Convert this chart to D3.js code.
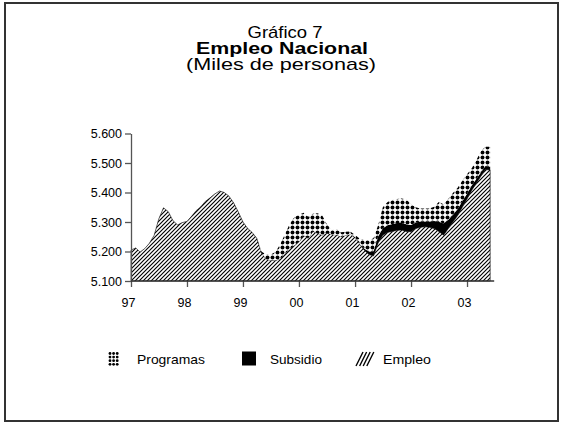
<!DOCTYPE html>
<html><head><meta charset="utf-8">
<script src="https://cdn.jsdelivr.net/npm/d3@7"></script>
<style>body{margin:0;background:#fff}svg{display:block;font-family:"Liberation Sans",Arial,sans-serif}</style>
</head><body><svg id="c" width="564" height="424"></svg>
<script>
// ---- data (miles de personas), monthly Jan 1997 – Jun 2003 ----
const firstMonth = new Date(1997, 0, 1);
const lastMonthExclusive = new Date(2003, 6, 1);
const empleo = [5205,5212,5198,5210,5228,5255,5310,5348,5335,5305,5290,5298,
  5302,5320,5338,5352,5370,5382,5395,5405,5400,5388,5365,5335,
  5300,5278,5265,5245,5195,5175,5170,5170,5175,5192,5208,5220,
  5233,5255,5245,5268,5262,5256,5262,5258,5256,5250,5255,5258,
  5248,5225,5205,5190,5185,5230,5255,5265,5268,5272,5273,5268,
  5267,5278,5282,5284,5282,5278,5268,5255,5278,5300,5322,5350,
  5378,5408,5430,5455,5478,5476];
const subsidio = [0,0,0,0,0,0,0,0,0,0,0,0,
  0,0,0,0,0,0,0,0,0,0,0,0,
  0,0,0,0,0,0,0,0,0,0,0,0,
  0,0,0,0,0,0,0,0,0,0,0,0,
  0,0,5,10,15,22,24,24,25,25,24,24,
  23,20,20,18,20,25,33,40,30,25,22,20,
  18,16,15,13,12,11];
const programas = [0,0,0,0,0,0,0,0,0,0,0,0,
  0,0,0,0,0,0,0,0,0,0,0,0,
  0,0,0,0,5,15,20,28,50,66,84,95,
  92,76,73,60,68,66,30,14,20,15,12,10,
  8,18,30,38,45,38,71,79,82,81,83,84,
  70,52,44,44,44,49,67,65,70,73,72,70,
  66,58,63,72,65,68];
const yTicks = [5100,5200,5300,5400,5500,5600];
const yTickLabels = ["5.100","5.200","5.300","5.400","5.500","5.600"];
const xTickYears = [1997,1998,1999,2000,2001,2002,2003];
const xTickLabels = ["97","98","99","00","01","02","03"];
const seriesKeys = ["empleo","subsidio","programas"];
const legendLabels = ["Programas","Subsidio","Empleo"];
const titleLines = ["Gráfico 7","Empleo Nacional","(Miles de personas)"];

const months = d3.timeMonth.range(firstMonth, lastMonthExclusive);
const rows = months.map((d,i)=>({date:d, empleo:empleo[i], subsidio:subsidio[i], programas:programas[i]}));

const svg = d3.select("#c");
const defs = svg.append("defs");
const hatch = defs.append("pattern").attr("id","hatch").attr("patternUnits","userSpaceOnUse").attr("width",4).attr("height",4);
hatch.append("rect").attr("width",4).attr("height",4).attr("fill","#fff");
hatch.append("path").attr("d","M-1,1 l2,-2 M0,4 l4,-4 M3,5 l2,-2").attr("stroke","#000").attr("stroke-width",1.15);
const dots = defs.append("pattern").attr("id","dots").attr("patternUnits","userSpaceOnUse").attr("width",5).attr("height",5);
dots.append("rect").attr("width",5).attr("height",5).attr("fill","#fff");
dots.append("circle").attr("cx",2.5).attr("cy",2.5).attr("r",1.95).attr("fill","#000");

// frame
svg.append("rect").attr("x",5).attr("y",3).attr("width",553).attr("height",418)
  .attr("fill","none").attr("stroke","#333").attr("stroke-width",2);

// helper: horizontally stretched text to a target width
function stretched(parent, txt, cx, yy, w, size, weight, anchor){
  const t = parent.append("text").attr("font-size",size).attr("font-weight",weight||"normal")
    .attr("text-anchor",anchor||"middle").text(txt);
  const len = t.node().getComputedTextLength();
  const sx = w/len;
  t.attr("transform",`translate(${cx},${yy}) scale(${sx},1)`);
  return t;
}

// title
const titleSpec = [{y:37.5,cx:285,w:75,bold:"normal"},{y:54,cx:282,w:172,bold:"bold"},{y:70,cx:281,w:190,bold:"normal"}];
titleSpec.forEach((s,i)=> stretched(svg, titleLines[i], s.cx, s.y, s.w, 16, s.bold, "middle"));

const x = d3.scaleTime().domain([new Date(1997,0,1), new Date(2004,0,1)]).range([131, 523]);
const y = d3.scaleLinear().domain([5100,5600]).range([281,133.5]).clamp(true);

const stack = d3.stack().keys(seriesKeys);
const layers = stack(rows);
const area = d3.area().x(d=>x(d.data.date)).y0(d=>y(d[0])).y1(d=>y(d[1]));
const fills = {empleo:"url(#hatch)", subsidio:"#000", programas:"url(#dots)"};

svg.append("g").selectAll("path").data(layers).join("path")
  .attr("d",area).attr("fill",d=>fills[d.key])
  .attr("stroke",d=>d.key==="empleo"?"#000":"none").attr("stroke-width",0.6);

// axes
const yAxis = d3.axisLeft(y).tickValues(yTicks).tickFormat((d,i)=>yTickLabels[i]).tickSize(6).tickSizeOuter(0).tickPadding(3);
const gy = svg.append("g").attr("transform","translate(131,0)").call(yAxis);
gy.selectAll("text").attr("font-size",12.5).attr("fill","#000").attr("font-family","Liberation Sans, Arial, sans-serif");
gy.selectAll("line,path").attr("stroke","#555").attr("stroke-width",1.3);

const xAxis = d3.axisBottom(x).tickValues(xTickYears.map(yr=>new Date(yr,0,1))).tickFormat((d,i)=>xTickLabels[i]).tickSize(6).tickSizeOuter(0).tickPadding(11);
const gx = svg.append("g").attr("transform","translate(0,281)").call(xAxis);
gx.select(".domain").remove();
gx.append("line").attr("x1",131).attr("x2",x(months[months.length-1])+4).attr("y1",0).attr("y2",0).attr("stroke","#333").attr("stroke-width",1.3);
gx.selectAll("text").attr("font-size",12.5).attr("fill","#000").attr("dx",-3).attr("font-family","Liberation Sans, Arial, sans-serif");
gx.selectAll(".tick line").attr("stroke","#555").attr("stroke-width",1.3);

// legend
const lg = svg.append("g");
for (let c=0;c<3;c++) for (let r=0;r<4;r++)
  lg.append("circle").attr("cx",110+c*3.6).attr("cy",353.5+r*3.6).attr("r",1.4).attr("fill","#000");
stretched(lg, legendLabels[0], 137, 363.5, 68, 13, "normal", "start");
lg.append("rect").attr("x",242).attr("y",351.5).attr("width",14).attr("height",14).attr("fill","#000");
stretched(lg, legendLabels[1], 270, 363.5, 52, 13, "normal", "start");
[0,4,8,12].forEach(o=>{
  lg.append("line").attr("x1",356+o*0.9).attr("y1",366).attr("x2",363+o*0.9).attr("y2",352)
    .attr("stroke","#000").attr("stroke-width",1.4);
});
stretched(lg, legendLabels[2], 383, 363.5, 48, 13, "normal", "start");
</script></body></html>
